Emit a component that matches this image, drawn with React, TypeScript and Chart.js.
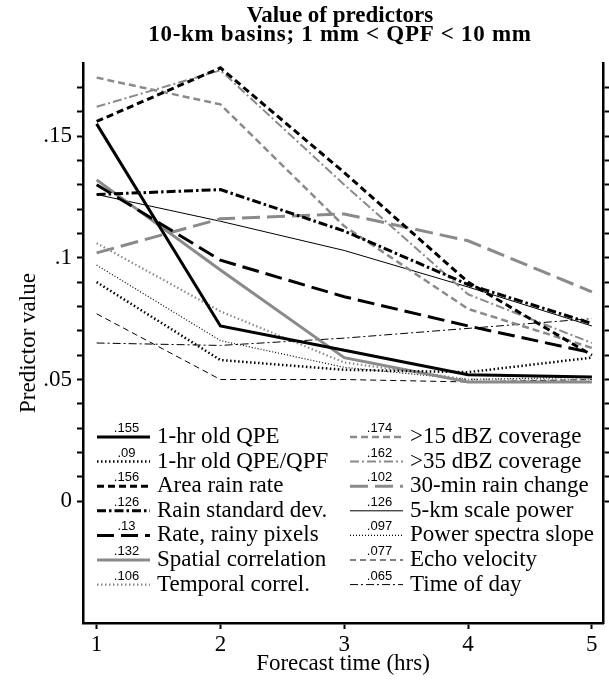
import React, { useEffect, useRef } from "react";
import { Chart, registerables } from "chart.js";

Chart.register(...registerables);

// ---------------- data ----------------
const TITLE_LINES = ["Value of predictors", "10-km basins; 1 mm < QPF < 10 mm"];
const X_TITLE = "Forecast time (hrs)";
const Y_TITLE = "Predictor value";

const FORECAST_HOURS = [1, 2, 3, 4, 5];
const Y_TICKS = [0, 0.01, 0.02, 0.03, 0.04, 0.05, 0.06, 0.07, 0.08, 0.09, 0.1, 0.11, 0.12, 0.13, 0.14, 0.15, 0.16, 0.17];
const Y_LABEL_VALUES = [0, 0.05, 0.1, 0.15];
const Y_LABELS = ["0", ".05", ".1", ".15"];

const SERIES_NAMES = [
  "1-hr old QPE",
  "1-hr old QPE/QPF",
  "Area rain rate",
  "Rain standard dev.",
  "Rate, rainy pixels",
  "Spatial correlation",
  "Temporal correl.",
  ">15 dBZ coverage",
  ">35 dBZ coverage",
  "30-min rain change",
  "5-km scale power",
  "Power spectra slope",
  "Echo velocity",
  "Time of day",
];

const QPE_1HR = [0.155, 0.072, 0.062, 0.052, 0.051];
const QPE_QPF_1HR = [0.09, 0.058, 0.054, 0.053, 0.059];
const AREA_RAIN_RATE = [0.156, 0.178, 0.135, 0.09, 0.06];
const RAIN_STD_DEV = [0.126, 0.128, 0.111, 0.089, 0.073];
const RATE_RAINY_PIXELS = [0.13, 0.099, 0.084, 0.072, 0.061];
const SPATIAL_CORR = [0.132, 0.095, 0.059, 0.049, 0.049];
const TEMPORAL_CORR = [0.106, 0.078, 0.057, 0.05, 0.05];
const COVERAGE_15DBZ = [0.174, 0.163, 0.113, 0.079, 0.063];
const COVERAGE_35DBZ = [0.162, 0.177, 0.13, 0.085, 0.065];
const RAIN_CHANGE_30MIN = [0.102, 0.116, 0.118, 0.107, 0.086];
const SCALE_POWER_5KM = [0.126, 0.115, 0.103, 0.088, 0.072];
const SPECTRA_SLOPE = [0.097, 0.066, 0.055, 0.05, 0.051];
const ECHO_VELOCITY = [0.077, 0.05, 0.05, 0.049, 0.05];
const TIME_OF_DAY = [0.065, 0.064, 0.067, 0.071, 0.075];

const SERIES_VALUES = [
  QPE_1HR,
  QPE_QPF_1HR,
  AREA_RAIN_RATE,
  RAIN_STD_DEV,
  RATE_RAINY_PIXELS,
  SPATIAL_CORR,
  TEMPORAL_CORR,
  COVERAGE_15DBZ,
  COVERAGE_35DBZ,
  RAIN_CHANGE_30MIN,
  SCALE_POWER_5KM,
  SPECTRA_SLOPE,
  ECHO_VELOCITY,
  TIME_OF_DAY,
];

// ---------------- styles ----------------
const BLACK = "#000000";
const GREY = "#8a8a8a";
const SERIF = '"Liberation Serif", "Times New Roman", Times, serif';
const SANS = '"Liberation Sans", Arial, Helvetica, sans-serif';
const FONT_SIZE = 23;

const SERIES_STYLES = [
  { color: BLACK, width: 3, dash: [] },
  { color: BLACK, width: 2.5, dash: [1.5, 2.5] },
  { color: BLACK, width: 3, dash: [7, 4] },
  { color: BLACK, width: 3, dash: [9, 3, 2.5, 3] },
  { color: BLACK, width: 3, dash: [17, 7] },
  { color: GREY, width: 3, dash: [] },
  { color: GREY, width: 2.2, dash: [1.5, 2.5] },
  { color: GREY, width: 2.5, dash: [7, 4] },
  { color: GREY, width: 2, dash: [9, 3, 2, 3] },
  { color: GREY, width: 3, dash: [18, 7] },
  { color: BLACK, width: 1, dash: [] },
  { color: BLACK, width: 1.2, dash: [1, 2] },
  { color: BLACK, width: 1, dash: [6, 4] },
  { color: BLACK, width: 1, dash: [8, 3, 2, 3] },
];

const fmtValue = (v: number) => String(v).replace(/^0\./, ".");

const titlePlugin = {
  id: "twoLineTitle",
  afterDraw(chart: any) {
    const { ctx } = chart;
    ctx.save();
    ctx.fillStyle = BLACK;
    ctx.font = `bold ${FONT_SIZE}px ${SERIF}`;
    ctx.textAlign = "center";
    ctx.textBaseline = "alphabetic";
    ctx.fillText(TITLE_LINES[0], 340, 22);
    try {
      (ctx as any).letterSpacing = "0.7px";
    } catch (e) {}
    ctx.fillText(TITLE_LINES[1], 340, 41);
    try {
      (ctx as any).letterSpacing = "0px";
    } catch (e) {}
    ctx.restore();
  },
};

const legendPlugin = {
  id: "twoColumnLegend",
  afterDraw(chart: any) {
    const { ctx, chartArea } = chart;
    const perCol = 7;
    chart.data.datasets.forEach((ds: any, i: number) => {
      const col = Math.floor(i / perCol);
      const row = i % perCol;
      const x0 = chartArea.left + (col === 0 ? 14 : 267);
      const len = 53;
      const baseline = chartArea.bottom - 180 + row * 24.6;
      const ly = baseline - 6;
      ctx.save();
      ctx.strokeStyle = ds.borderColor;
      ctx.lineWidth = ds.borderWidth;
      ctx.setLineDash(ds.borderDash || []);
      ctx.beginPath();
      ctx.moveTo(x0, ly);
      ctx.lineTo(x0 + len, ly);
      ctx.stroke();
      ctx.setLineDash([]);
      ctx.fillStyle = BLACK;
      ctx.font = `13px ${SANS}`;
      ctx.textAlign = "center";
      ctx.textBaseline = "alphabetic";
      ctx.fillText(fmtValue(ds.data[0].y), x0 + len / 2 + 3, ly - 5);
      ctx.font = `${FONT_SIZE}px ${SERIF}`;
      ctx.textAlign = "left";
      ctx.fillText(ds.label, x0 + len + 7, baseline);
      ctx.restore();
    });
  },
};

const yTickLabel = (value: number) => {
  const idx = Y_LABEL_VALUES.findIndex((v) => Math.abs(v - value) < 1e-9);
  return idx >= 0 ? Y_LABELS[idx] : "";
};

export default function App() {
  const canvasRef = useRef<HTMLCanvasElement | null>(null);

  useEffect(() => {
    document.body.style.margin = "0";
    const canvas = canvasRef.current;
    if (!canvas) return;

    const datasets = SERIES_VALUES.map((vals, i) => ({
      label: SERIES_NAMES[i],
      data: vals.map((v, j) => ({ x: FORECAST_HOURS[j], y: v })),
      borderColor: SERIES_STYLES[i].color,
      backgroundColor: SERIES_STYLES[i].color,
      borderWidth: SERIES_STYLES[i].width,
      borderDash: SERIES_STYLES[i].dash,
      borderCapStyle: "butt",
      borderJoinStyle: "miter",
      pointRadius: 0,
      pointHoverRadius: 0,
      tension: 0,
      fill: false,
    }));

    const tickGrid = {
      drawOnChartArea: false,
      drawTicks: true,
      tickLength: 6,
      tickWidth: 2,
      tickColor: BLACK,
    };
    const border = { display: true, color: BLACK, width: 2.5 };

    const chart = new Chart(canvas, {
      type: "line",
      data: { datasets: datasets as any },
      options: {
        responsive: false,
        animation: false,
        events: [],
        layout: { padding: { top: 63, left: 0, right: 0, bottom: 0 } },
        plugins: {
          legend: { display: false },
          tooltip: { enabled: false },
          title: { display: false },
        },
        scales: {
          x: {
            type: "linear",
            position: "bottom",
            min: 0.89,
            max: 5.09,
            afterFit: (s: any) => {
              s.height = 58;
            },
            afterBuildTicks: (s: any) => {
              s.ticks = FORECAST_HOURS.map((v) => ({ value: v }));
            },
            ticks: {
              autoSkip: false,
              maxRotation: 0,
              padding: 2,
              color: BLACK,
              font: { family: SERIF, size: FONT_SIZE },
              callback: (v: any) => String(v),
            },
            grid: tickGrid,
            border,
            title: {
              display: true,
              text: X_TITLE,
              color: BLACK,
              font: { family: SERIF, size: FONT_SIZE },
              padding: { top: 0, bottom: 3 },
            },
          },
          y: {
            type: "linear",
            position: "left",
            min: -0.05,
            max: 0.18,
            afterFit: (s: any) => {
              s.width = 83;
            },
            afterBuildTicks: (s: any) => {
              s.ticks = Y_TICKS.map((v) => ({ value: v }));
            },
            ticks: {
              autoSkip: false,
              padding: 5,
              color: BLACK,
              font: { family: SERIF, size: FONT_SIZE },
              callback: (v: any) => yTickLabel(Number(v)),
            },
            grid: tickGrid,
            border,
            title: {
              display: true,
              text: Y_TITLE,
              color: BLACK,
              font: { family: SERIF, size: FONT_SIZE },
              padding: { top: 15, bottom: 0 },
            },
          },
          y2: {
            type: "linear",
            position: "right",
            min: -0.05,
            max: 0.18,
            afterFit: (s: any) => {
              s.width = 6;
            },
            afterBuildTicks: (s: any) => {
              s.ticks = Y_TICKS.map((v) => ({ value: v }));
            },
            ticks: { display: false, autoSkip: false },
            grid: tickGrid,
            border,
          },
        },
      },
      plugins: [titlePlugin, legendPlugin],
    } as any);

    return () => chart.destroy();
  }, []);

  return (
    <div style={{ position: "absolute", left: 0, top: 0, width: 609, height: 681, background: "#fff" }}>
      <canvas ref={canvasRef} width={609} height={681} style={{ display: "block" }} />
    </div>
  );
}
